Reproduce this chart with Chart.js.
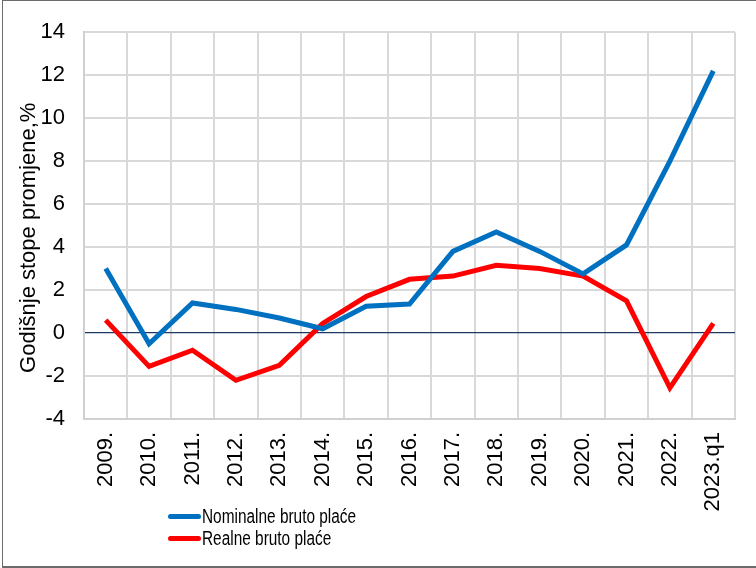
<!DOCTYPE html>
<html>
<head>
<meta charset="utf-8">
<script src="https://cdn.jsdelivr.net/npm/chart.js@4"></script>
<style>
  html, body { margin: 0; padding: 0; background: #fff; }
  #wrap { position: relative; width: 756px; height: 568px; font-family: "Liberation Sans", Arial, sans-serif; }
  #frame { position: absolute; left: 2px; top: 0; width: 760px; height: 565px; border-top: 1px solid #6b6b6b; border-left: 1px solid #6b6b6b; border-bottom: 2px solid #6b6b6b; pointer-events: none; }
  #legend { position: absolute; left: 168px; top: 505px; font-size: 20px; color: #000; line-height: 22px; }
  #legend div { display: flex; align-items: center; }
  #legend span.sw { display: inline-block; width: 33px; height: 5px; border-radius: 2.5px; margin-right: 1px; }
  #legend span.tx { display: inline-block; transform: scaleX(0.77); transform-origin: left center; white-space: nowrap; }
</style>
</head>
<body>
<div id="wrap">
  <canvas id="chart" width="756" height="568"></canvas>
  <div id="frame"></div>
  <div id="legend"></div>
</div>
<script>
// podaci
const godine = ['2009.', '2010.', '2011.', '2012.', '2013.', '2014.', '2015.', '2016.', '2017.', '2018.', '2019.', '2020.', '2021.', '2022.', '2023.q1'];
const nominalne = [3.0, -0.5, 1.4, 1.1, 0.7, 0.2, 1.25, 1.35, 3.8, 4.7, 3.8, 2.75, 4.1, 8.0, 12.2];
const realne = [0.6, -1.55, -0.8, -2.2, -1.5, 0.45, 1.7, 2.5, 2.65, 3.15, 3.0, 2.65, 1.5, -2.55, 0.45];
const nazivi = ['Nominalne bruto plaće', 'Realne bruto plaće'];
const boje = ['#0070C0', '#FF0000'];

const font = { family: '"Liberation Sans", Arial, sans-serif', size: 22 };

const ctx = document.getElementById('chart').getContext('2d');
const chart = new Chart(ctx, {
  type: 'line',
  data: {
    labels: godine,
    datasets: [
      { label: nazivi[0], data: nominalne, borderColor: boje[0], borderWidth: 5, pointRadius: 0, tension: 0, fill: false },
      { label: nazivi[1], data: realne, borderColor: boje[1], borderWidth: 5, pointRadius: 0, tension: 0, fill: false }
    ]
  },
  options: {
    responsive: false,
    animation: false,
    layout: { padding: { top: 30, right: 21, left: 0, bottom: 0 } },
    plugins: { legend: { display: false }, tooltip: { enabled: false } },
    scales: {
      x: {
        offset: true,
        grid: { offset: true, color: '#d9d9d9', lineWidth: 2, drawTicks: false },
        border: { color: '#d0d0d0', width: 2 },
        ticks: { color: '#000', font: font, minRotation: 90, maxRotation: 90, padding: 13, autoSkip: false },
        afterFit: s => { s.height = 149; }
      },
      y: {
        min: -4, max: 14,
        grid: {
          color: c => c.tick.value === 0 ? '#1F3864' : '#d9d9d9',
          lineWidth: c => c.tick.value === 0 ? 1.2 : 2,
          drawTicks: false
        },
        border: { color: '#d0d0d0', width: 2 },
        ticks: { stepSize: 2, color: '#000', font: font, padding: 19 },
        title: { display: true, text: 'Godišnje stope promjene,%    ', color: '#000', font: font, padding: { top: 16, bottom: 0 } },
        afterFit: s => { s.width = 84; }
      }
    }
  }
});

// legenda
const legend = document.getElementById('legend');
nazivi.forEach((n, i) => {
  const row = document.createElement('div');
  row.innerHTML = '<span class="sw" style="background:' + boje[i] + '"></span><span class="tx">' + n + '</span>';
  legend.appendChild(row);
});
</script>
</body>
</html>
